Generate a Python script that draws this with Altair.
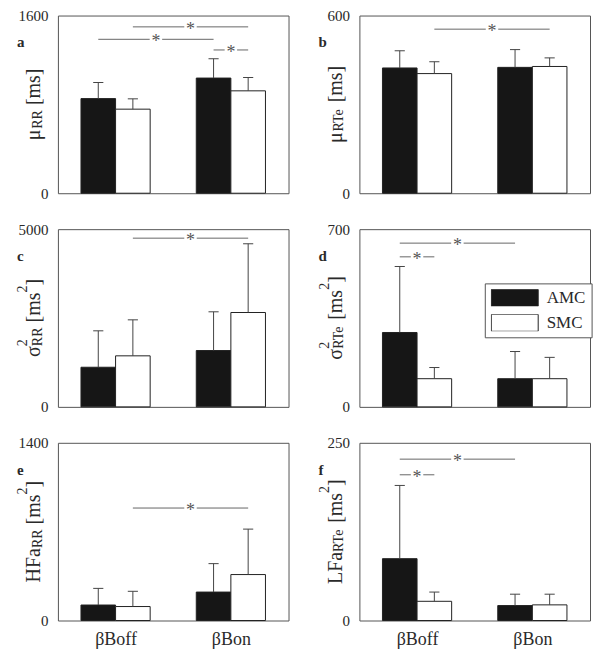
import altair as alt
import pandas as pd

# ---------------- data ----------------
groups = ["βBoff", "βBon"]
series = ["AMC", "SMC"]
panel_letters = ["a", "b", "c", "d", "e", "f"]
y_max = [1600, 600, 5000, 700, 1400, 250]

mean_amc = [[852, 1037], [423, 425], [1115, 1585], [293, 111], [122, 224], [87, 21]]
mean_smc = [[757, 922], [404, 428], [1436, 2655], [111, 111], [110, 362], [27, 22]]
err_amc = [[145, 174], [58, 60], [1025, 1090], [260, 107], [131, 224], [103, 16]]
err_smc = [[93, 120], [40, 29], [1013, 1934], [44, 84], [120, 358], [13, 15]]

# significance brackets: panel index, (group, series) start, (group, series) end, level
sig_panel = [0, 0, 0, 1, 2, 3, 3, 4, 5, 5]
sig_from = [(0, 1), (0, 0), (1, 0), (0, 1), (0, 1), (0, 0), (0, 0), (0, 1), (0, 0), (0, 0)]
sig_to = [(1, 1), (1, 0), (1, 1), (1, 1), (1, 1), (1, 0), (0, 1), (1, 1), (1, 0), (0, 1)]
sig_level = [1498, 1386, 1290, 554, 4747, 645, 591, 886, 227, 205]

# y-axis titles: (text, kind) kind: n normal, sub subscript, sup superscript, sup0 superscript without advance
titles = [
    [("μ", "n"), ("RR", "sub"), (" [ms]", "n")],
    [("μ", "n"), ("RTe", "sub"), (" [ms]", "n")],
    [("σ", "n"), ("2", "sup0"), ("RR", "sub"), (" [ms", "n"), ("2", "sup"), ("]", "n")],
    [("σ", "n"), ("2", "sup0"), ("RTe", "sub"), (" [ms", "n"), ("2", "sup"), ("]", "n")],
    [("HFa", "n"), ("RR", "sub"), (" [ms", "n"), ("2", "sup"), ("]", "n")],
    [("LFa", "n"), ("RTe", "sub"), (" [ms", "n"), ("2", "sup"), ("]", "n")],
]

# ---------------- style / layout ----------------
FONT = "Liberation Serif"
TXT = "#2a2a2a"
W, H = 231, 178
BAR_W = 0.15
CAP = 0.022
GAP = 0.027
F_TITLE, F_SMALL = 20, 14
XB, SUB, SUP = -17.5, 1.5, 13

CW = {"μ": 0.58, "σ": 0.55, "R": 0.667, "T": 0.611, "e": 0.444, "H": 0.722, "F": 0.556,
      "a": 0.444, "L": 0.611, " ": 0.25, "[": 0.333, "]": 0.333, "m": 0.778, "s": 0.389, "2": 0.5}


def tw(s, fs):
    return sum(CW.get(ch, 0.5) for ch in s) * fs


def pos(g, s):
    return 0.25 + 0.5 * g + (s - 0.5) * BAR_W


def one(txt):
    return pd.DataFrame({"t": [txt]})


def title_layers(parts):
    items, cursor = [], 0.0
    for txt, kind in parts:
        fs = F_TITLE if kind == "n" else F_SMALL
        dx = 0 if kind == "n" else (SUB if kind == "sub" else -SUP)
        lead = len(txt) - len(txt.lstrip(" "))
        core = txt.strip(" ")
        items.append((core, fs, cursor + tw(" " * lead, fs), dx))
        if kind != "sup0":
            cursor += tw(txt, fs)
    start = H / 2 + cursor / 2
    return [
        alt.Chart(one(txt)).mark_text(angle=270, align="left", baseline="alphabetic",
                                      fontSize=fs, font=FONT, color=TXT)
        .encode(x=alt.value(XB + dx), y=alt.value(start - off), text="t:N")
        for txt, fs, off, dx in items
    ]


def panel(i):
    rows = []
    for g in range(2):
        for s in range(2):
            m = (mean_amc if s == 0 else mean_smc)[i][g]
            e = (err_amc if s == 0 else err_smc)[i][g]
            c = pos(g, s)
            rows.append(dict(group=groups[g], series=series[s], x0=c - BAR_W / 2, x1=c + BAR_W / 2,
                             xc=c, cl=c - CAP, cr=c + CAP, mean=m, top=m + e, zero=0))
    df = pd.DataFrame(rows)

    segs, stars = [], []
    for p, a, b, lv in zip(sig_panel, sig_from, sig_to, sig_level):
        if p != i:
            continue
        xa, xb = pos(*a), pos(*b)
        mid = (xa + xb) / 2
        segs.append(dict(sx=xa, sx2=mid - GAP, sy=lv))
        segs.append(dict(sx=mid + GAP, sx2=xb, sy=lv))
        stars.append(dict(mx=mid, sy=lv))
    sdf, stdf = pd.DataFrame(segs), pd.DataFrame(stars)

    xscale = alt.Scale(domain=[0, 1])
    yscale = alt.Scale(domain=[0, y_max[i]], nice=False)
    if i >= 4:
        xaxis = alt.Axis(values=[0.25, 0.75], title=None, labelFontSize=18, labelPadding=10,
                         labelFlush=False, labelColor=TXT,
                         labelExpr=f"datum.value < 0.5 ? '{groups[0]}' : '{groups[1]}'")
    else:
        xaxis = None
    yaxis = alt.Axis(values=[0, y_max[i]], title=None, format="d", labelFontSize=15,
                     labelPadding=10, labelColor=TXT)

    def X(f):
        return alt.X(f, type="quantitative", scale=xscale, axis=xaxis)

    def Y(f):
        return alt.Y(f, type="quantitative", scale=yscale, axis=yaxis)

    if i == 3:
        legend = alt.Legend(title=None, orient="none", legendX=125.6, legendY=54.3, padding=6,
                            strokeColor="#555", fillColor="white", cornerRadius=0,
                            symbolType="M-1,-0.3617H1V0.3617H-1Z", symbolSize=2209,
                            symbolStrokeColor="#222", symbolStrokeWidth=1, symbolOpacity=1,
                            clipHeight=17, labelFont=FONT, labelFontSize=17, labelColor=TXT,
                            labelOffset=8, rowPadding=7)
    else:
        legend = None

    bars = alt.Chart(df).mark_rect(stroke="#222", strokeWidth=1).encode(
        x=X("x0"), x2="x1:Q", y=Y("mean"), y2="zero:Q",
        fill=alt.Fill("series:N", scale=alt.Scale(domain=series, range=["#161616", "#ffffff"]),
                      legend=legend))
    stems = alt.Chart(df).mark_rule(color="#444", strokeWidth=1).encode(
        x=X("xc"), y=Y("mean"), y2="top:Q")
    caps = alt.Chart(df).mark_rule(color="#444", strokeWidth=1).encode(
        x=X("cl"), x2="cr:Q", y=Y("top"))
    lines = alt.Chart(sdf).mark_rule(color="#666", strokeWidth=1).encode(
        x=X("sx"), x2="sx2:Q", y=Y("sy"))
    star = alt.Chart(stdf).mark_text(text="*", fontSize=18, font=FONT, color="#555",
                                     baseline="alphabetic", dy=8).encode(x=X("mx"), y=Y("sy"))
    letter = alt.Chart(one(panel_letters[i])).mark_text(
        align="left", baseline="alphabetic", font=FONT, fontWeight="bold", fontSize=15,
        color=TXT).encode(x=alt.value(-41), y=alt.value(32), text="t:N")
    anchor = alt.Chart(one("")).mark_rule(opacity=0).encode(
        x=alt.value(-49), x2=alt.value(-48), y=alt.value(-8), y2=alt.value(-8))

    return alt.layer(bars, stems, caps, lines, star, letter, *title_layers(titles[i]), anchor
                     ).properties(width=W, height=H)


chart = alt.concat(*[panel(i) for i in range(6)], columns=2,
                   spacing={"row": 18, "column": 20}
                   ).resolve_scale(fill="independent").resolve_legend(fill="independent"
                   ).properties(padding={"top": -2, "left": 0, "right": 0, "bottom": 0}
                   ).configure_view(stroke="#555", strokeWidth=1
                   ).configure_axis(domain=False, ticks=False, grid=False, labelFont=FONT)

chart.save("out.html", embed_options={"renderer": "svg", "actions": False})
